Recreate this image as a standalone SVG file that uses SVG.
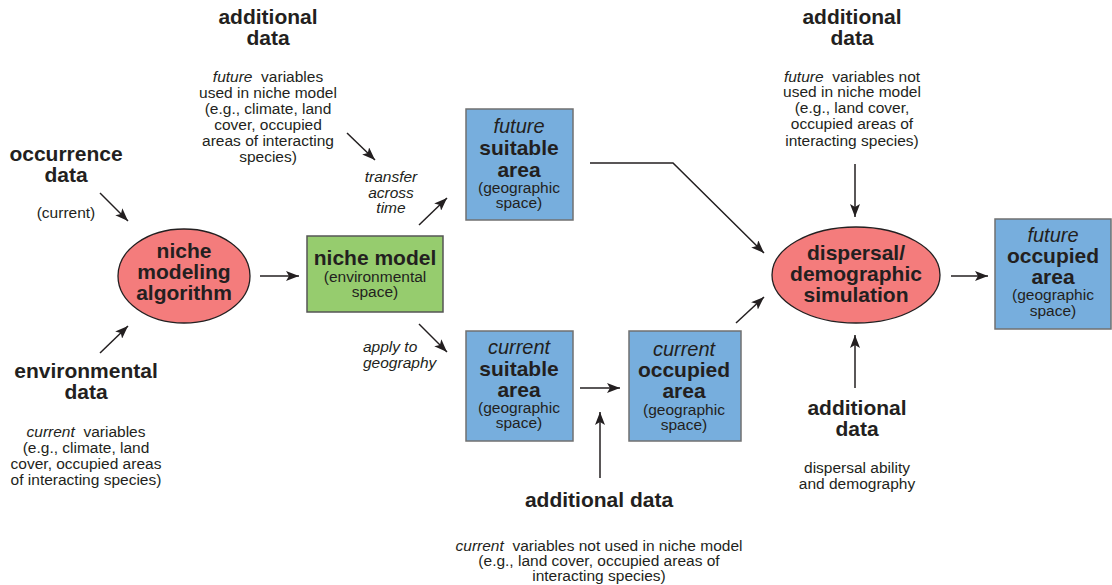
<svg xmlns="http://www.w3.org/2000/svg" width="1112" height="585" viewBox="0 0 1112 585">
<defs>
<marker id="ah" markerUnits="userSpaceOnUse" markerWidth="14" markerHeight="10" refX="13" refY="5" orient="auto"><path d="M0,0 L13,5 L0,10 L3,5 Z" fill="#231f20"/></marker>
<style>
text{font-family:"Liberation Sans",Arial,sans-serif;fill:#231f20;text-anchor:middle;white-space:pre}
.h{font-size:21px;font-weight:bold}
.d{font-size:15.5px}
.i{font-style:italic}
.t{font-size:20px;font-style:italic}
.box{fill:#77aedd;stroke:#707070;stroke-width:1.5}
.ell{fill:#f47c7c;stroke:#231f20;stroke-width:1.3}
.c line,.c path{stroke:#231f20;stroke-width:1.5;fill:none;marker-end:url(#ah)}
</style>
</defs>
<rect width="1112" height="585" fill="#fff"/>
<g class="c" id="connectors">
<line x1="100" y1="193" x2="128" y2="221"/>
<line x1="100" y1="353" x2="128" y2="326"/>
<line x1="260" y1="276" x2="299" y2="276"/>
<line x1="419" y1="225" x2="447" y2="198"/>
<line x1="347" y1="133" x2="375" y2="160"/>
<line x1="419" y1="324" x2="447" y2="352"/>
<path d="M590,163 L673,163 L764,253"/>
<line x1="580" y1="388" x2="620" y2="388"/>
<line x1="600" y1="478" x2="600" y2="412"/>
<line x1="736" y1="323" x2="764" y2="297"/>
<line x1="855" y1="164" x2="855" y2="217"/>
<line x1="951" y1="276" x2="988" y2="276"/>
<line x1="855" y1="388" x2="855" y2="335"/>
</g>
<g id="occurrence">
<text class="h" x="66" y="161">occurrence</text>
<text class="h" x="66" y="182">data</text>
<text class="d" x="66" y="218">(current)</text>
</g>
<g id="environmental">
<text class="h" x="86" y="378">environmental</text>
<text class="h" x="86" y="399">data</text>
<text class="d" x="86" y="437" xml:space="preserve"><tspan class="i">current</tspan>  variables</text>
<text class="d" x="86" y="453">(e.g., climate, land</text>
<text class="d" x="86" y="469">cover, occupied areas</text>
<text class="d" x="86" y="485">of interacting species)</text>
</g>
<g id="algorithm">
<ellipse class="ell" cx="184" cy="276" rx="66" ry="47"/>
<text class="h" x="184" y="258">niche</text>
<text class="h" x="184" y="279">modeling</text>
<text class="h" x="184" y="300">algorithm</text>
</g>
<g id="additional-future">
<text class="h" x="268" y="24">additional</text>
<text class="h" x="268" y="45">data</text>
<text class="d" x="268" y="82" xml:space="preserve"><tspan class="i">future</tspan>  variables</text>
<text class="d" x="268" y="98">used in niche model</text>
<text class="d" x="268" y="114">(e.g., climate, land</text>
<text class="d" x="268" y="130">cover, occupied</text>
<text class="d" x="268" y="146">areas of interacting</text>
<text class="d" x="268" y="162">species)</text>
</g>
<g id="niche-model">
<rect x="307" y="236" width="136" height="76" fill="#96cc6e" stroke="#555" stroke-width="1.5"/>
<text class="h" x="375" y="265">niche model</text>
<text class="d" x="375" y="282">(environmental</text>
<text class="d" x="375" y="297">space)</text>
</g>
<g id="transfer-label">
<text class="d i" x="391" y="182">transfer</text>
<text class="d i" x="391" y="198">across</text>
<text class="d i" x="391" y="213">time</text>
</g>
<g id="apply-label">
<text class="d i" x="363" y="352" style="text-anchor:start">apply to</text>
<text class="d i" x="363" y="368" style="text-anchor:start">geography</text>
</g>
<g id="future-suitable">
<rect class="box" x="466" y="109" width="107" height="111"/>
<text class="t" x="519" y="133">future</text>
<text class="h" x="519" y="155">suitable</text>
<text class="h" x="519" y="177">area</text>
<text class="d" x="519" y="193">(geographic</text>
<text class="d" x="519" y="208">space)</text>
</g>
<g id="current-suitable">
<rect class="box" x="466" y="331" width="107" height="110"/>
<text class="t" x="519" y="354">current</text>
<text class="h" x="519" y="376">suitable</text>
<text class="h" x="519" y="397">area</text>
<text class="d" x="519" y="413">(geographic</text>
<text class="d" x="519" y="428">space)</text>
</g>
<g id="current-occupied">
<rect class="box" x="629" y="331" width="112" height="110"/>
<text class="t" x="684" y="356">current</text>
<text class="h" x="684" y="377">occupied</text>
<text class="h" x="684" y="398">area</text>
<text class="d" x="684" y="415">(geographic</text>
<text class="d" x="684" y="430">space)</text>
</g>
<g id="additional-current">
<text class="h" x="599" y="507">additional data</text>
<text class="d" x="599" y="551" xml:space="preserve"><tspan class="i">current</tspan>  variables not used in niche model</text>
<text class="d" x="599" y="566">(e.g., land cover, occupied areas of</text>
<text class="d" x="599" y="581">interacting species)</text>
</g>
<g id="additional-future-2">
<text class="h" x="852" y="24">additional</text>
<text class="h" x="852" y="45">data</text>
<text class="d" x="852" y="82" xml:space="preserve"><tspan class="i">future</tspan>  variables not</text>
<text class="d" x="852" y="97">used in niche model</text>
<text class="d" x="852" y="113">(e.g., land cover,</text>
<text class="d" x="852" y="129">occupied areas of</text>
<text class="d" x="852" y="146">interacting species)</text>
</g>
<g id="dispersal">
<ellipse class="ell" cx="856" cy="275" rx="84" ry="48"/>
<text class="h" x="856" y="260">dispersal/</text>
<text class="h" x="856" y="281">demographic</text>
<text class="h" x="856" y="302">simulation</text>
</g>
<g id="additional-dispersal">
<text class="h" x="857" y="415">additional</text>
<text class="h" x="857" y="436">data</text>
<text class="d" x="857" y="473">dispersal ability</text>
<text class="d" x="857" y="489">and demography</text>
</g>
<g id="future-occupied">
<rect class="box" x="995" y="219" width="116" height="110"/>
<text class="t" x="1053" y="242">future</text>
<text class="h" x="1053" y="263">occupied</text>
<text class="h" x="1053" y="284">area</text>
<text class="d" x="1053" y="300">(geographic</text>
<text class="d" x="1053" y="316">space)</text>
</g>
</svg>
